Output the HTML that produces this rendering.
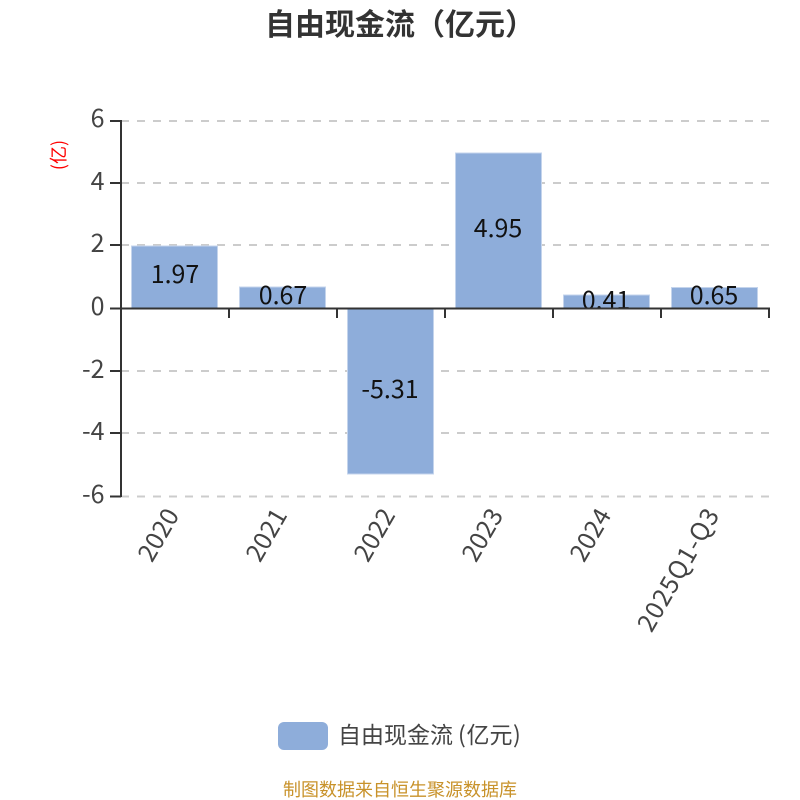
<!DOCTYPE html>
<html><head><meta charset="utf-8"><style>
html,body{margin:0;padding:0;background:#fff}
svg{display:block}
text{font-family:"Liberation Sans","Noto Sans CJK SC",sans-serif}
.n{font-family:"Noto Sans CJK SC","Liberation Sans",sans-serif}
</style></head><body>
<svg width="800" height="800" viewBox="0 0 800 800" xmlns="http://www.w3.org/2000/svg">
<rect width="800" height="800" fill="#fff"/>
<text x="400" y="35" text-anchor="middle" class="n" font-size="30" font-weight="700" fill="#333">自由现金流（亿元）</text>
<g stroke="#ccc" stroke-width="2" stroke-dasharray="8 8">
<line x1="121" y1="121" x2="769" y2="121"/>
<line x1="121" y1="183" x2="769" y2="183"/>
<line x1="121" y1="245" x2="769" y2="245"/>
<line x1="121" y1="371" x2="769" y2="371"/>
<line x1="121" y1="433" x2="769" y2="433"/>
<line x1="121" y1="496.500" x2="769" y2="496.500"/>
</g>
<g fill="#8eadda" stroke="#c4d4ec" stroke-width="1">
<rect x="131.500" y="246" width="86" height="62"/>
<rect x="239.500" y="287" width="86" height="21"/>
<rect x="347.500" y="308" width="86" height="166"/>
<rect x="455.500" y="153" width="86" height="155"/>
<rect x="563.500" y="295" width="86" height="13"/>
<rect x="671.500" y="287.500" width="86" height="20.500"/>
</g>
<g fill="#111" text-anchor="middle" font-size="25">
<text class="n" x="175" y="283">1.97</text>
<text class="n" x="283" y="304">0.67</text>
<text class="n" x="390" y="398">-5.31</text>
<text class="n" x="498" y="237">4.95</text>
<text class="n" x="606" y="309">0.41</text>
<text class="n" x="714" y="304">0.65</text>
</g>
<g stroke="#333" stroke-width="2" fill="none">
<line x1="121" y1="120" x2="121" y2="497"/>
<line x1="110" y1="121" x2="121" y2="121"/>
<line x1="110" y1="183" x2="121" y2="183"/>
<line x1="110" y1="245" x2="121" y2="245"/>
<line x1="110" y1="308.500" x2="121" y2="308.500"/>
<line x1="110" y1="371" x2="121" y2="371"/>
<line x1="110" y1="433" x2="121" y2="433"/>
<line x1="110" y1="496.500" x2="121" y2="496.500"/>
<line x1="120" y1="308.500" x2="770" y2="308.500"/>
<line x1="229" y1="308" x2="229" y2="318"/>
<line x1="337" y1="308" x2="337" y2="318"/>
<line x1="445" y1="308" x2="445" y2="318"/>
<line x1="553" y1="308" x2="553" y2="318"/>
<line x1="661" y1="308" x2="661" y2="318"/>
<line x1="769" y1="308" x2="769" y2="318"/>
</g>
<g font-size="25" fill="#444" text-anchor="end">
<text class="n" x="104.500" y="127">6</text>
<text class="n" x="104.500" y="190">4</text>
<text class="n" x="104.500" y="252">2</text>
<text class="n" x="104.500" y="315">0</text>
<text class="n" x="104.500" y="378">-2</text>
<text class="n" x="104.500" y="440">-4</text>
<text class="n" x="104.500" y="503">-6</text>
</g>
<text class="n" transform="translate(65,155) rotate(-90)" font-size="18" fill="#f00" text-anchor="middle">(亿)</text>
<g font-size="25" fill="#444">
<text class="n" transform="translate(180,515) rotate(-60) translate(-56,0)" textLength="56">2020</text>
<text class="n" transform="translate(288,515) rotate(-60) translate(-56,0)" textLength="56">2021</text>
<text class="n" transform="translate(396,515) rotate(-60) translate(-56,0)" textLength="56">2022</text>
<text class="n" transform="translate(504,515) rotate(-60) translate(-56,0)" textLength="56">2023</text>
<text class="n" transform="translate(612,515) rotate(-60) translate(-56,0)" textLength="56">2024</text>
<text class="n" transform="translate(720,515) rotate(-60) translate(-137,0)" textLength="137">2025Q1-Q3</text>
</g>
<rect x="278" y="722" width="50" height="28" rx="6" fill="#8eadda"/>
<text class="n" y="743" font-size="23" fill="#444"><tspan x="338">自由现金流</tspan><tspan x="458">(</tspan><tspan x="466.500">亿元</tspan><tspan x="513">)</tspan></text>
<text class="n" x="400" y="796" font-size="18" fill="#c8922a" text-anchor="middle">制图数据来自恒生聚源数据库</text>
</svg>
</body></html>
